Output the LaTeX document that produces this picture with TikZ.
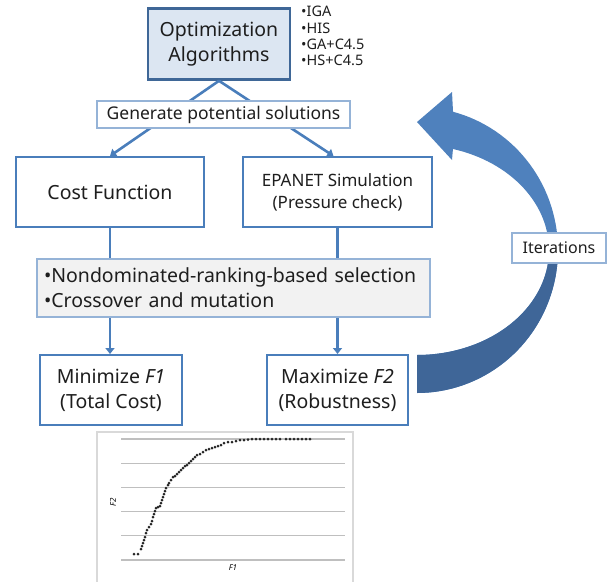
\documentclass[tikz,border=0pt]{standalone}
\usepackage{fontspec}
\setmainfont{Noto Sans}
\usetikzlibrary{arrows.meta}
\definecolor{bdr}{HTML}{4A7EBB}
\definecolor{optbdr}{HTML}{3F6797}
\definecolor{optfill}{HTML}{DCE6F2}
\definecolor{lightbdr}{HTML}{95B3D7}
\definecolor{selfill}{HTML}{F2F2F2}
\definecolor{arrowTop}{HTML}{4F81BD}
\definecolor{arrowBot}{HTML}{3F6698}
\definecolor{txt}{HTML}{1E1E1E}
\definecolor{gridc}{HTML}{BFBFBF}
\definecolor{framec}{HTML}{D9D9D9}
\begin{document}
\begin{tikzpicture}[x=1pt,y=-1pt,
  box/.style={draw=bdr, line width=2pt, fill=white, align=center, inner sep=0pt, text=txt},
  conn/.style={draw=bdr, line width=2.6pt, -{Triangle[length=6pt,width=9pt]}},
  big/.style={font=\fontsize{19.5}{25}\selectfont},
  mid/.style={font=\fontsize{17}{22}\selectfont},
  small/.style={font=\fontsize{17.5}{19}\selectfont}]
\useasboundingbox (0,0) rectangle (607,581);

% curved iteration arrow (light upper part, darker lower part)
\fill[arrowTop]
  plot[domain=90:-75.2, samples=70] ({417+141*cos(\x)},{250+143*sin(\x)})
  -- (452,92) -- (417,122) -- (452,160)
  -- plot[domain=-74.2:90, samples=70] ({417+132*cos(\x)},{250+105*sin(\x)}) -- cycle;
\fill[arrowBot]
  plot[domain=90:0, samples=50] ({417+141*cos(\x)},{250+143*sin(\x)})
  -- plot[domain=0:90, samples=50] ({417+132*cos(\x)},{250+105*sin(\x)}) -- cycle;

% nodes
\node[box, big, draw=optbdr, line width=2.6pt, fill=optfill, minimum width=142pt, minimum height=71pt] (opt) at (219,44) {Optimization\\Algorithms};
\node[box, big, minimum width=188pt, minimum height=70pt] (cost) at (110,192) {Cost Function};
\node[box, mid, minimum width=189pt, minimum height=70pt] (epa) at (337.5,192) {EPANET Simulation\\(Pressure check)};
\node[box, big, minimum width=142pt, minimum height=70pt] (mini) at (111,390) {Minimize \textit{F1}\\(Total Cost)};
\node[box, big, minimum width=141pt, minimum height=70pt] (maxi) at (337.5,390) {Maximize \textit{F2}\\(Robustness)};

% connectors
\draw[conn] (opt.south) -- (cost.north);
\draw[conn] (opt.south) -- ([xshift=-4pt]epa.north);
\draw[conn] (cost.south) -- (cost.south |- mini.north);
\draw[conn] (epa.south) -- (epa.south |- maxi.north);

\node[box, small, draw=lightbdr, line width=1.5pt, minimum width=253pt, minimum height=27pt] (gen) at (223.5,114.5) {Generate potential solutions};
\node[box, big, draw=lightbdr, line width=1.5pt, fill=selfill, minimum height=58pt, text width=379pt, inner xsep=7pt, align=left] (sel) at (233.5,288) {•Nondominated-ranking-based selection\\•Crossover and mutation};
\node[box, font=\fontsize{16}{19}\selectfont, draw=lightbdr, line width=1.5pt, minimum width=94pt, minimum height=30pt] (iter) at (559,248) {Iterations};

\node[anchor=north west, align=left, inner sep=0pt, text=txt, font=\fontsize{14.5}{16.3}\selectfont] (algs) at (301,6) {•IGA\\•HIS\\•GA+C4.5\\•HS+C4.5};

% chart
\begin{scope}
\clip (0,0) rectangle (607,581);
\draw[framec, line width=1.2pt, fill=white] (97,432) rectangle (353,600);
\foreach \yy in {439,463.2,487.4,511.6,535.8,560}
  \draw[gridc, line width=1.1pt] (121,\yy) -- (345,\yy);
\foreach \p in {(134,554),(138,554),(141,549),(142,546),(143,543),(144,540),(145,537),(146,533),(147,530),(149,527),(151,524),(152,521),(153,517),(154,514),(155,511),(156,508),(158,507),(160,506),(161,503),(162,500),(163,497),(164,494),(165,491),(166,488),(168,485),(169,483),(171,480),(173,477),(175,476),(177,474),(179,472),(181,470),(183,468),(185,466),(187,465),(189,463),(191,461),(193,459),(195,457),(197,455),(200,454),(203,452),(206,450),(209,449),(212,448),(215,447),(218,446),(221,445),(224,443),(228,442),(232,442),(236,441),(240,440),(244,440),(248,439.5),(252,439),(256,439),(260,439),(264,439),(268,439),(272,439),(276,439),(280,439),(286,439),(290,439),(294,439),(298,439),(302,439),(306,439),(310,439)}
  \fill[black!85] \p circle (1.5);
\node[rotate=90, font=\bfseries\itshape\fontsize{8}{9}\selectfont, inner sep=0pt] (f2) at (113,502) {F2};
\node[font=\bfseries\itshape\fontsize{8}{9}\selectfont, inner sep=0pt] (f1) at (233,568) {F1};
\end{scope}
\end{tikzpicture}
\end{document}
